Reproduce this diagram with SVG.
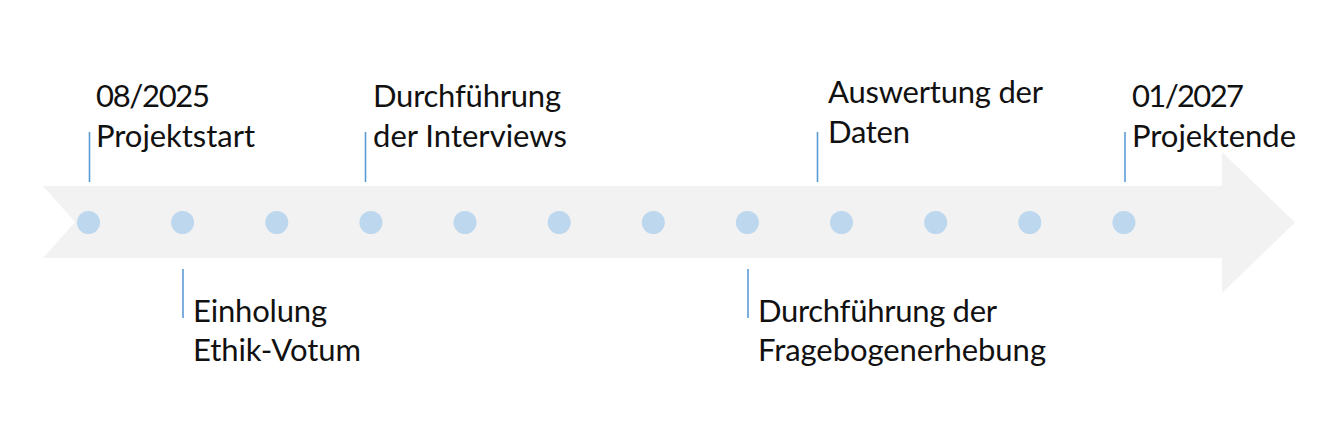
<svg xmlns="http://www.w3.org/2000/svg" width="1320" height="438" viewBox="0 0 1320 438">
<style>
.lbl{font-family:"Lato","Open Sans","Liberation Sans",sans-serif;font-size:31px;fill:#111111}
.dot{fill:#BDD7EE}
.tick{stroke:#5B9BD5;stroke-width:1.6;fill:none}
</style>
<rect x="0" y="0" width="1320" height="438" fill="#ffffff"/>
<g id="arrow">
<polygon points="43,186 1222,186 1222,152 1295,222.5 1222,293 1222,258 43,258 75,222" fill="#F2F2F2"/>
</g>
<g id="dots">
<circle class="dot" cx="88.5" cy="222.5" r="11.5"/>
<circle class="dot" cx="182.6" cy="222.5" r="11.5"/>
<circle class="dot" cx="276.8" cy="222.5" r="11.5"/>
<circle class="dot" cx="370.9" cy="222.5" r="11.5"/>
<circle class="dot" cx="465" cy="222.5" r="11.5"/>
<circle class="dot" cx="559.2" cy="222.5" r="11.5"/>
<circle class="dot" cx="653.3" cy="222.5" r="11.5"/>
<circle class="dot" cx="747.4" cy="222.5" r="11.5"/>
<circle class="dot" cx="841.5" cy="222.5" r="11.5"/>
<circle class="dot" cx="935.7" cy="222.5" r="11.5"/>
<circle class="dot" cx="1029.8" cy="222.5" r="11.5"/>
<circle class="dot" cx="1123.9" cy="222.5" r="11.5"/>
</g>
<g id="connectors">
<line class="tick" x1="89.5" y1="132" x2="89.5" y2="182"/>
<line class="tick" x1="183" y1="269" x2="183" y2="318"/>
<line class="tick" x1="365.5" y1="132" x2="365.5" y2="182"/>
<line class="tick" x1="748" y1="269" x2="748" y2="318"/>
<line class="tick" x1="817.5" y1="132" x2="817.5" y2="182"/>
<line class="tick" x1="1125" y1="132" x2="1125" y2="182"/>
</g>
<g id="projektstart">
<text class="lbl" x="96" y="107" textLength="114">08/2025</text>
<text class="lbl" x="96" y="147" textLength="159">Projektstart</text>
</g>
<g id="ethik">
<text class="lbl" x="193" y="322" textLength="134">Einholung</text>
<text class="lbl" x="193" y="361" textLength="168">Ethik-Votum</text>
</g>
<g id="interviews">
<text class="lbl" x="373" y="107" textLength="188">Durchführung</text>
<text class="lbl" x="373" y="147" textLength="194">der Interviews</text>
</g>
<g id="fragebogen">
<text class="lbl" x="758" y="322" textLength="239">Durchführung der</text>
<text class="lbl" x="758" y="361" textLength="288">Fragebogenerhebung</text>
</g>
<g id="auswertung">
<text class="lbl" x="828" y="103" textLength="215">Auswertung der</text>
<text class="lbl" x="828" y="143" textLength="82">Daten</text>
</g>
<g id="projektende">
<text class="lbl" x="1132" y="107" textLength="112">01/2027</text>
<text class="lbl" x="1132" y="147" textLength="164">Projektende</text>
</g>
</svg>
